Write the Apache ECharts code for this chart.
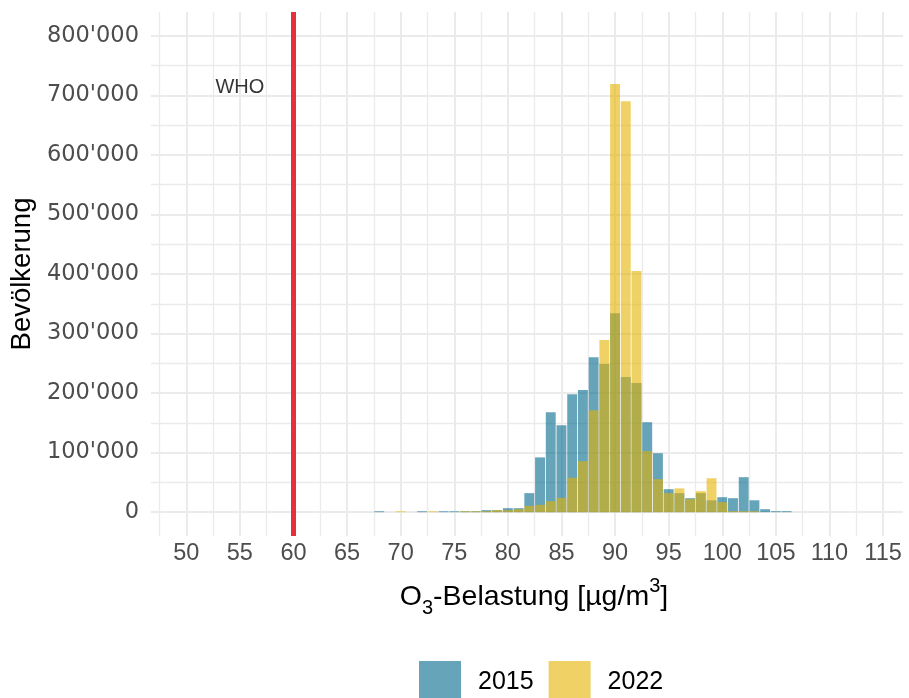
<!DOCTYPE html>
<html>
<head>
<meta charset="utf-8">
<script src="https://cdn.jsdelivr.net/npm/echarts@6/dist/echarts.min.js"></script>
<style>
html,body{margin:0;padding:0;background:#fff;}
#chart{width:909px;height:698px;}
</style>
</head>
<body>
<div id="chart"></div>
<script>
// ---- data (bin centres in µg/m3, population counts) ----
const bins = [68,69,70,71,72,73,74,75,76,77,78,79,80,81,82,83,84,85,86,87,88,89,90,91,92,93,94,95,96,97,98,99,100,101,102,103,104,105,106];
const pop2015 = [1500,0,0,0,1500,0,1500,1500,1500,1500,3400,3400,6700,6700,32000,92000,168000,146000,198000,205000,260000,249000,334000,227000,217000,151000,99000,38600,32000,23500,32000,20000,25200,23500,58800,20000,5000,1700,1700];
const pop2022 = [0,0,1500,0,0,1500,0,0,1500,1500,1700,3400,3400,5000,10600,12300,18500,24000,57700,85700,171000,289000,719000,690000,405000,102500,55500,32000,40000,21800,35300,57000,16800,1700,1700,1700,0,0,0];
const seriesNames = ['2015','2022'];
const xTicks = [50,55,60,65,70,75,80,85,90,95,100,105,110,115];
const yTicks = [0,100000,200000,300000,400000,500000,600000,700000,800000];
const whoLimit = 60;
const whoLabel = 'WHO';
const whoLabelPos = [55, 714000];

// ---- styling ----
const FONT = "'Liberation Sans', Arial, sans-serif";
const YFONT = "'DejaVu Sans', sans-serif";
const X_MIN = 46.71, X_MAX = 116.86;
const Y_MIN = -40000, Y_MAX = 840000;
const GRID_COLOR = '#EBEBEB';

function fmtThousands(v){ return String(v).replace(/\B(?=(\d{3})+(?!\d))/g, "'"); }

// grid lines (major at ticks, minor halfway)
const xStep = xTicks[1]-xTicks[0];
const yStep = yTicks[1]-yTicks[0];
const vMajor = xTicks.slice();
const vMinor = [xTicks[0]-xStep/2].concat(xTicks.map(v=>v+xStep/2)).filter(v=>v>X_MIN && v<X_MAX);
const hMajor = yTicks.slice();
const hMinor = [yTicks[0]-yStep/2].concat(yTicks.map(v=>v+yStep/2)).filter(v=>v>Y_MIN && v<Y_MAX);

const gridLineData = []
  .concat(vMinor.map(v=>({xAxis:v, lineStyle:{width:1.3}})))
  .concat(hMinor.map(v=>({yAxis:v, lineStyle:{width:1.3}})))
  .concat(vMajor.map(v=>({xAxis:v, lineStyle:{width:2}})))
  .concat(hMajor.map(v=>({yAxis:v, lineStyle:{width:2}})));

const toData = arr => bins.map((b,i)=> arr[i] === 0 ? [b, null] : [b, arr[i]]);

const chart = echarts.init(document.getElementById('chart'), null, {renderer:'canvas'});
chart.setOption({
  animation:false,
  backgroundColor:'#ffffff',
  textStyle:{fontFamily:FONT},
  grid:{left:151, right:6, top:12, bottom:162},
  xAxis:{
    type:'value', min:X_MIN, max:X_MAX,
    axisLine:{show:false}, axisTick:{show:false}, splitLine:{show:false},
    axisLabel:{customValues:xTicks, fontSize:23.5, color:'#4D4D4D', margin:6, fontFamily:FONT},
    name:'O{sub|3}-Belastung [µg/m{sup|3}]',
    nameLocation:'middle', nameGap:40,
    nameTextStyle:{fontSize:28.5, color:'#000', fontFamily:FONT, lineHeight:42, padding:[0,0,0,14],
      rich:{
        sub:{fontSize:20, lineHeight:25, verticalAlign:'bottom', color:'#000', fontFamily:FONT},
        sup:{fontSize:20, lineHeight:20, verticalAlign:'top', color:'#000', fontFamily:FONT}
      }}
  },
  yAxis:{
    type:'value', min:Y_MIN, max:Y_MAX,
    axisLine:{show:false}, axisTick:{show:false}, splitLine:{show:false},
    axisLabel:{customValues:yTicks, fontSize:22.5, color:'#4D4D4D', margin:12, fontFamily:YFONT,
      formatter:v=>fmtThousands(v)},
    name:'Bevölkerung', nameLocation:'middle', nameGap:106,
    nameTextStyle:{fontSize:27.5, color:'#000', fontFamily:FONT}
  },
  legend:{
    data:seriesNames, left:419, top:661, orient:'horizontal', padding:0,
    itemWidth:42, itemHeight:42, itemGap:15, icon:'rect',
    textStyle:{fontSize:25, color:'#000', fontFamily:FONT, padding:[0,0,0,12]}
  },
  series:[
    {
      type:'line', data:[], silent:true, z:0,
      markLine:{
        silent:true, symbol:['none','none'], z:0,
        label:{show:false},
        lineStyle:{color:GRID_COLOR, type:'solid', width:1},
        emphasis:{disabled:true},
        data:gridLineData
      }
    },
    {
      name:seriesNames[0], type:'bar', data:toData(pop2015),
      barWidth:9.9, barGap:'-100%', z:2,
      itemStyle:{color:'rgba(0,104,139,0.6)', borderWidth:0}
    },
    {
      name:seriesNames[1], type:'bar', data:toData(pop2022),
      barWidth:9.9, barGap:'-100%', z:3,
      itemStyle:{color:'rgba(228,178,0,0.6)', borderWidth:0}
    },
    {
      type:'line', data:[], silent:true, z:4,
      markLine:{
        silent:true, symbol:['none','none'], z:4,
        label:{show:false},
        lineStyle:{color:'#E8303A', type:'solid', width:5},
        data:[{xAxis:whoLimit}]
      }
    },
    {
      type:'scatter', data:[whoLabelPos], symbolSize:0, silent:true, z:5,
      label:{show:true, position:'inside', formatter:whoLabel, fontSize:20, color:'#000000', textBorderWidth:0, fontFamily:FONT}
    }
  ]
});
</script>
</body>
</html>
